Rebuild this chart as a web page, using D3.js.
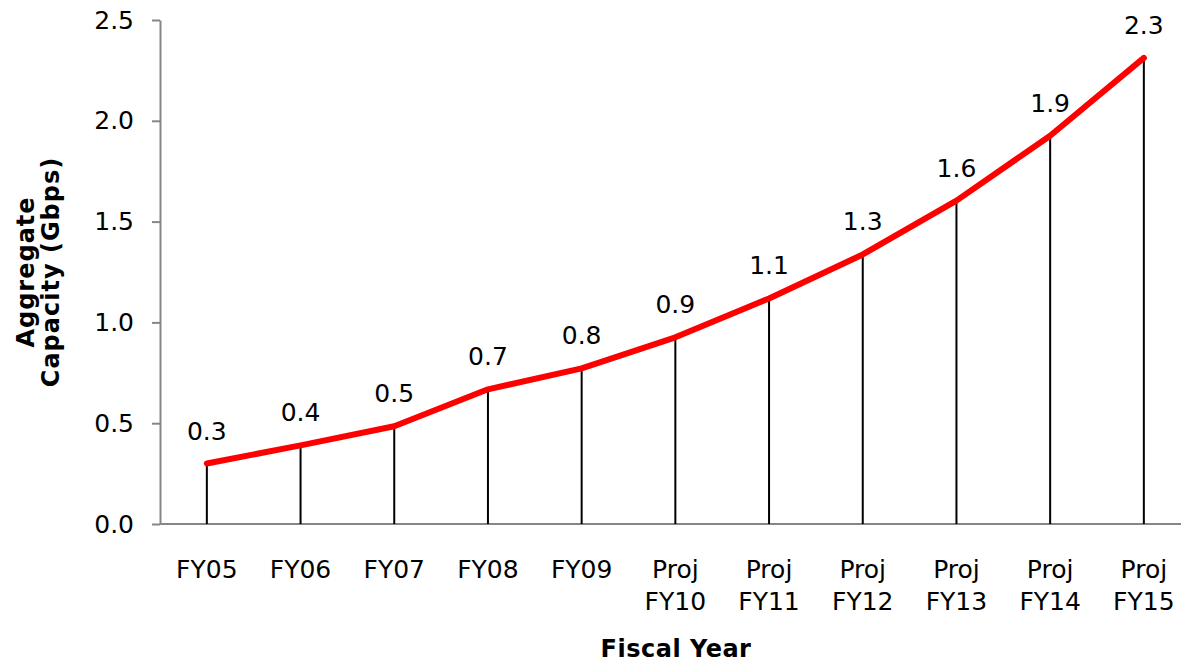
<!DOCTYPE html>
<html>
<head>
<meta charset="utf-8">
<script src="https://cdn.jsdelivr.net/npm/d3@7"></script>
<style>
  body { margin: 0; background: #fff; }
</style>
</head>
<body>
<svg id="chart" width="1181" height="665"></svg>
<script>
var categories = [ "FY05", "FY06", "FY07", "FY08", "FY09", "Proj FY10", "Proj FY11", "Proj FY12", "Proj FY13", "Proj FY14", "Proj FY15" ];
var capacity = [ 0.30, 0.39, 0.485, 0.668, 0.772, 0.926, 1.119, 1.337, 1.604, 1.926, 2.312 ];
var yTicks = [ 0, 0.5, 1.0, 1.5, 2.0, 2.5 ];

var data = categories.map( (c, i) => ({ cat: c, value: capacity[i] }) );

var margin = { top: 20, left: 160 };
var font = "DejaVu Sans, Verdana, sans-serif";
var svg = d3.select( "svg#chart" );

var x = d3.scaleBand()
  .domain( categories )
  .range( [ margin.left, margin.left + 93.7 * categories.length ] );

var y = d3.scaleLinear()
  .domain( [ 0, 2.5 ] )
  .range( [ 524, margin.top ] );

var cx = d => x( d ) + x.bandwidth() / 2;

// y axis
var yAxis = svg.append( "g" )
  .attr( "transform", `translate(${margin.left},0)` )
  .call( d3.axisLeft( y ).tickValues( yTicks ).tickFormat( d3.format( ".1f" ) ).tickSize( 8 ).tickSizeOuter( 0 ) );
yAxis.selectAll( "line, path" ).attr( "stroke", "#868686" ).attr( "stroke-width", 2 );
yAxis.selectAll( "text" )
  .attr( "font-family", font )
  .attr( "font-size", 25 )
  .attr( "fill", "#000" )
  .attr( "x", -26 );

// x axis line
svg.append( "line" )
  .attr( "x1", margin.left ).attr( "x2", x.range()[1] )
  .attr( "y1", y(0) ).attr( "y2", y(0) )
  .attr( "stroke", "#868686" ).attr( "stroke-width", 2 );

// x labels (two lines for projected years)
svg.append( "g" )
  .attr( "font-family", font )
  .attr( "font-size", 25 )
  .attr( "text-anchor", "middle" )
  .selectAll( "text" )
  .data( categories )
  .join( "text" )
    .attr( "y", 578 )
    .each( function( d ) {
      var t = d3.select( this );
      d.split( " " ).forEach( function( p, i ) {
        t.append( "tspan" )
          .attr( "x", cx( d ) )
          .attr( "dy", i === 0 ? 0 : 32 )
          .text( p );
      });
    });

// drop lines
svg.append( "g" )
  .selectAll( "line" )
  .data( data )
  .join( "line" )
    .attr( "x1", d => cx( d.cat ) )
    .attr( "x2", d => cx( d.cat ) )
    .attr( "y1", d => y( d.value ) )
    .attr( "y2", y(0) )
    .attr( "stroke", "#000" )
    .attr( "stroke-width", 2 );

// red line
var line = d3.line()
  .x( d => cx( d.cat ) )
  .y( d => y( d.value ) );

svg.append( "path" )
  .datum( data )
  .attr( "d", line )
  .attr( "fill", "none" )
  .attr( "stroke", "#ff0000" )
  .attr( "stroke-width", 6 )
  .attr( "stroke-linejoin", "round" )
  .attr( "stroke-linecap", "round" );

// value labels
svg.append( "g" )
  .attr( "font-family", font )
  .attr( "font-size", 25 )
  .attr( "text-anchor", "middle" )
  .selectAll( "text" )
  .data( data )
  .join( "text" )
    .attr( "x", d => cx( d.cat ) )
    .attr( "y", d => y( d.value ) - 24 )
    .text( d => d.value.toFixed( 1 ) );

// axis titles
svg.append( "text" )
  .attr( "x", 676 )
  .attr( "y", 657 )
  .attr( "text-anchor", "middle" )
  .attr( "font-family", font )
  .attr( "font-weight", "bold" )
  .attr( "font-size", 24 )
  .attr( "letter-spacing", 0.5 )
  .text( "Fiscal Year" );

var yt = svg.append( "text" )
  .attr( "transform", "translate(0,272) rotate(-90)" )
  .attr( "text-anchor", "middle" )
  .attr( "font-family", font )
  .attr( "font-weight", "bold" )
  .attr( "font-size", 24 )
  .attr( "letter-spacing", 1 );
yt.append( "tspan" ).attr( "x", 0 ).attr( "y", 34 ).text( "Aggregate" );
yt.append( "tspan" ).attr( "x", 0 ).attr( "y", 59 ).text( "Capacity (Gbps)" );
</script>
</body>
</html>
